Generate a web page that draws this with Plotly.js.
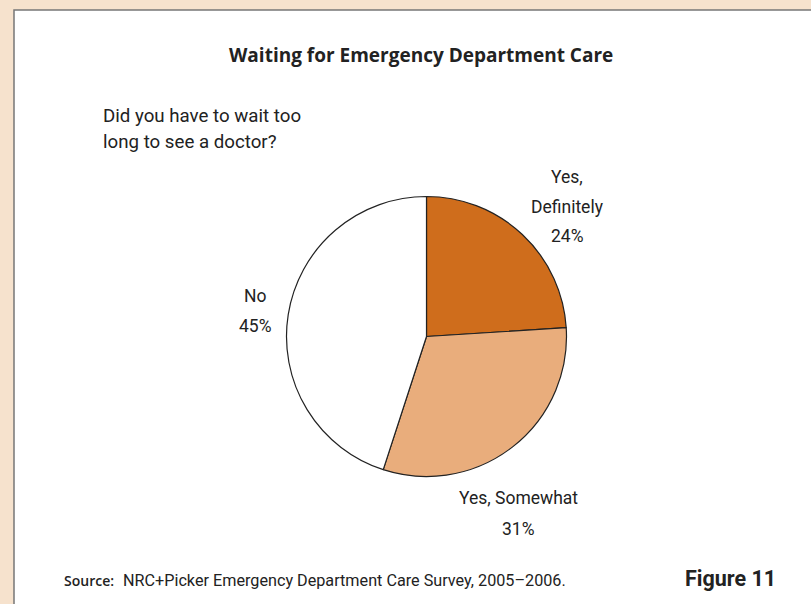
<!DOCTYPE html>
<html><head><meta charset="utf-8">
<script src="https://cdn.plot.ly/plotly-3.0.1.min.js"></script>
<style>html,body{margin:0;padding:0;background:#f6e2cd;}#chart{width:811px;height:604px;}</style>
</head><body><div id="chart"></div>
<script>
var categories = ['Yes, Definitely', 'Yes, Somewhat', 'No'];
var labelLines = [['Yes,', 'Definitely'], ['Yes, Somewhat'], ['No']];
var values = [24, 31, 45];
var colors = ['#cf6d1c', '#e9ad7c', '#ffffff'];
var titleText = 'Waiting for Emergency Department Care';
var questionLines = ['Did you have to wait too', 'long to see a doctor?'];
var sourceLabel = 'Source:';
var sourceText = 'NRC+Picker Emergency Department Care Survey, 2005–2006.';
var figureLabel = 'Figure 11';

var W = 811, H = 604;
function px(x){return x / W;}
function py(y){return 1 - y / H;}

var narrow = 'Roboto, "DejaVu Sans Condensed", Arial, sans-serif';
var ink = '#222';

// label block placement: [center x, first line y, line spacing]
var labelPos = [[567, 177, 29.5], [518, 498, 31], [255, 296, 29.5]];
var annotations = [];
categories.forEach(function(c, i){
  var lines = labelLines[i].concat([values[i] + '%']);
  lines.forEach(function(t, k){
    annotations.push({
      xref: 'paper', yref: 'paper',
      x: px(labelPos[i][0]), y: py(labelPos[i][1] + k * labelPos[i][2]),
      xanchor: 'center', yanchor: 'middle', showarrow: false,
      text: t, font: {family: narrow, size: 17.5, color: ink}
    });
  });
});

annotations.push({
  xref:'paper', yref:'paper', x: px(421), y: py(55), xanchor:'center', yanchor:'middle',
  showarrow:false, text: titleText,
  font:{family:'"Open Sans", "Liberation Sans", sans-serif', size:19, weight:700, color:ink}
});
questionLines.forEach(function(t, k){
  annotations.push({
    xref:'paper', yref:'paper', x: px(101), y: py(116 + k * 26.5), xanchor:'left', yanchor:'middle',
    showarrow:false, text: t,
    font:{family:narrow, size:18.7, color:ink}
  });
});
annotations.push({
  xref:'paper', yref:'paper', x: px(62), y: py(580), xanchor:'left', yanchor:'middle',
  showarrow:false, text: sourceLabel,
  font:{family:'"Open Sans", "Liberation Sans", sans-serif', size:14, weight:600, color:ink}
});
annotations.push({
  xref:'paper', yref:'paper', x: px(121), y: py(580), xanchor:'left', yanchor:'middle',
  showarrow:false, text: sourceText,
  font:{family:narrow, size:16.2, color:ink}
});
annotations.push({
  xref:'paper', yref:'paper', x: px(683), y: py(578), xanchor:'left', yanchor:'middle',
  showarrow:false, text: figureLabel,
  font:{family:narrow, size:21.5, weight:700, color:ink}
});

var trace = {
  type: 'pie',
  labels: categories,
  values: values,
  sort: false,
  direction: 'clockwise',
  rotation: 0,
  textinfo: 'none',
  hoverinfo: 'label+percent',
  marker: {colors: colors, line: {color: '#222', width: 1.2}},
  domain: {x: [px(286.5), px(566.5)], y: [py(476.5), py(196.5)]},
  showlegend: false
};

var layout = {
  width: W, height: H,
  margin: {l:0, r:0, t:0, b:0},
  paper_bgcolor: '#f6e2cd',
  plot_bgcolor: '#f6e2cd',
  showlegend: false,
  shapes: [{
    type:'rect', xref:'paper', yref:'paper', layer:'below',
    x0: px(14), x1: px(820), y0: py(10), y1: py(620),
    fillcolor:'#ffffff', line:{color:'#777', width:1.5}
  }],
  annotations: annotations
};

Plotly.newPlot('chart', [trace], layout, {staticPlot: true, displayModeBar: false});
</script>
</body></html>
